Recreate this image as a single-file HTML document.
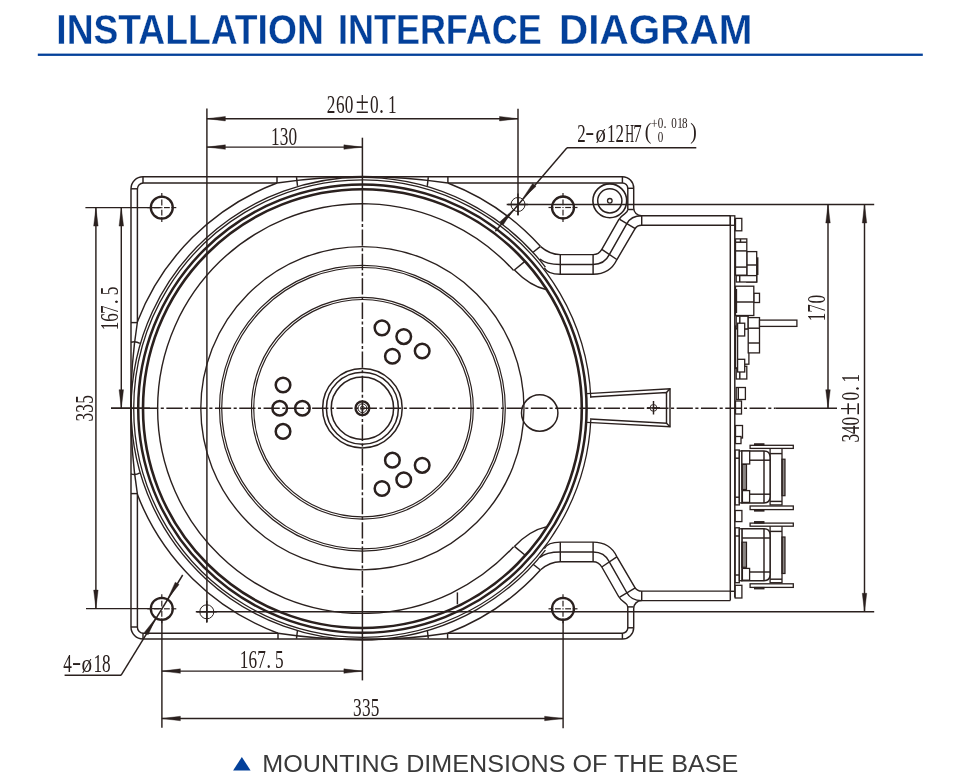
<!DOCTYPE html>
<html><head><meta charset="utf-8"><style>
html,body{margin:0;padding:0;background:#fff;}
body{width:960px;height:778px;overflow:hidden;position:relative;}
svg{position:absolute;left:0;top:0;will-change:transform;}
</style></head><body>
<svg width="960" height="778" viewBox="0 0 960 778">
<g font-family="Liberation Sans" font-weight="bold" font-size="43.4" fill="#03409a" stroke="#fff" stroke-width="0.3">
<text x="56.3" y="44.1" textLength="267.5" lengthAdjust="spacingAndGlyphs">INSTALLATION</text>
<text x="338.1" y="44.1" textLength="203.6" lengthAdjust="spacingAndGlyphs">INTERFACE</text>
<text x="559.1" y="44.1" textLength="193.4" lengthAdjust="spacingAndGlyphs">DIAGRAM</text>
</g>
<rect x="37.8" y="53.6" width="885" height="2.3" fill="#03409a"/>
<g fill="none" stroke="#2a201e" stroke-linecap="butt" stroke-width="1.2">
<circle cx="362.4" cy="408.6" r="224.2" stroke-width="2.5" />
<circle cx="362.4" cy="408.6" r="219.4" stroke-width="2.6" />
<path d="M545.41,267.15 A231.3,231.3 0 1 0 545.41,550.05" stroke-width="1.35" />
<path d="M590.83,397.43 A228.7,228.7 0 1 0 590.83,419.77" stroke-width="1.3" />
<path d="M513.64,270.5 A204.8,204.8 0 1 0 513.64,546.7" stroke-width="1.4" />
<circle cx="362.4" cy="408.2" r="161.6" stroke-width="1.35" />
<circle cx="362.4" cy="408.2" r="142.9" stroke-width="1.2" />
<circle cx="362.4" cy="408.2" r="140.7" stroke-width="1.2" />
<circle cx="362.4" cy="408.2" r="110.9" stroke-width="1.2" />
<circle cx="362.4" cy="408.2" r="108.7" stroke-width="1.2" />
<circle cx="362.4" cy="408.2" r="39.8" stroke-width="1.5" />
<circle cx="362.4" cy="408.2" r="36" stroke-width="1.5" />
<circle cx="362.4" cy="408.2" r="31.2" stroke-width="1.5" />
<circle cx="362.4" cy="408.2" r="6.9" stroke-width="2.3" />
<circle cx="362.4" cy="408.2" r="4.4" stroke-width="1.0" />
<circle cx="362.4" cy="408.2" r="2" stroke-width="0.8" />
<circle cx="283.02" cy="431.41" r="7.3" stroke-width="2.5" />
<circle cx="279.7" cy="408.2" r="7.3" stroke-width="2.5" />
<circle cx="283.02" cy="384.99" r="7.3" stroke-width="2.5" />
<circle cx="302.4" cy="408.2" r="7.3" stroke-width="2.5" />
<circle cx="381.99" cy="327.85" r="7.3" stroke-width="2.5" />
<circle cx="403.75" cy="336.58" r="7.3" stroke-width="2.5" />
<circle cx="422.19" cy="351.06" r="7.3" stroke-width="2.5" />
<circle cx="392.4" cy="356.24" r="7.3" stroke-width="2.5" />
<circle cx="422.19" cy="465.34" r="7.3" stroke-width="2.5" />
<circle cx="403.75" cy="479.82" r="7.3" stroke-width="2.5" />
<circle cx="381.99" cy="488.55" r="7.3" stroke-width="2.5" />
<circle cx="392.4" cy="460.16" r="7.3" stroke-width="2.5" />
<circle cx="539.7" cy="413" r="18.2" stroke-width="1.5" />
<path d="M137.4,321.85 A241,241 0 0 1 277,183" stroke-width="1.45" />
<path d="M137.4,494.55 A241,241 0 0 0 278,633.2" stroke-width="1.45" />
<path d="M447.9,183 A241,241 0 0 1 540.6,246.6" stroke-width="1.45" />
<path d="M447.6,633.2 A241,241 0 0 0 540.6,569.8" stroke-width="1.45" />
<path d="M131,342 L131,188.8 A12,12 0 0 1 143,176.8 L622.4,176.8 A11.3,11.3 0 0 1 633.7,188.1 L633.7,208 A7.8,7.8 0 0 0 641.5,215.8 L730.3,215.8" stroke-width="1.45" />
<path d="M131,474 L131,627 A12,12 0 0 0 143,639 L622.4,639 A11.3,11.3 0 0 0 633.7,627.7 L633.7,608.4 A7.8,7.8 0 0 1 641.5,600.6 L730.3,600.6" stroke-width="1.45" />
<path d="M131,342 L131,474" stroke-width="1.45" />
<path d="M137.4,322 L137.4,189 A6,6 0 0 1 143.4,183 L277,183" stroke-width="1.45" />
<path d="M447.9,183 L622.4,183 A5.4,5.4 0 0 1 627.8,188.4 L627.8,209.5" stroke-width="1.45" />
<path d="M137.4,494 L137.4,627.2 A6,6 0 0 0 143.4,633.2 L278,633.2" stroke-width="1.45" />
<path d="M447.6,633.2 L622.4,633.2 A5.4,5.4 0 0 0 627.8,627.8 L627.8,606.9" stroke-width="1.45" />
<line x1="143" y1="176.8" x2="143" y2="183" stroke-width="1.45" />
<line x1="131" y1="188.8" x2="137.4" y2="188.8" stroke-width="1.45" />
<line x1="143" y1="639" x2="143" y2="633.2" stroke-width="1.45" />
<line x1="131" y1="627" x2="137.4" y2="627" stroke-width="1.45" />
<line x1="622.4" y1="176.8" x2="622.4" y2="183" stroke-width="1.45" />
<line x1="627.8" y1="188.3" x2="633.7" y2="188.3" stroke-width="1.45" />
<line x1="622.4" y1="639" x2="622.4" y2="633.2" stroke-width="1.45" />
<line x1="627.8" y1="627.8" x2="633.7" y2="627.8" stroke-width="1.45" />
<line x1="277" y1="176.8" x2="277" y2="183" stroke-width="1.45" />
<line x1="447.9" y1="176.8" x2="447.9" y2="183" stroke-width="1.45" />
<line x1="278" y1="639" x2="278" y2="633.2" stroke-width="1.45" />
<line x1="447.6" y1="639" x2="447.6" y2="633.2" stroke-width="1.45" />
<line x1="131" y1="322.6" x2="137.4" y2="322.6" stroke-width="1.45" />
<line x1="131" y1="493.6" x2="137.4" y2="493.6" stroke-width="1.45" />
<line x1="627.8" y1="209.5" x2="633.7" y2="209.5" stroke-width="1.45" />
<line x1="627.8" y1="606.9" x2="633.7" y2="606.9" stroke-width="1.45" />
<path d="M277,183 A560,560 0 0 1 447.9,183" stroke-width="1.45" />
<path d="M278,633.2 A560,560 0 0 0 447.6,633.2" stroke-width="1.45" />
<path d="M137.4,322 A560,560 0 0 0 137.4,494" stroke-width="1.45" />
<line x1="296.5" y1="177.1" x2="297.5" y2="185.8" stroke-width="1.45" />
<line x1="428.3" y1="177.1" x2="427.3" y2="185.8" stroke-width="1.45" />
<line x1="296.5" y1="638.7" x2="297.5" y2="630" stroke-width="1.45" />
<line x1="428.3" y1="638.7" x2="427.3" y2="630" stroke-width="1.45" />
<path d="M131,342.3 Q135.5,340.8 139.9,343.4" stroke-width="1.45" />
<path d="M131,473.9 Q135.5,475.4 139.9,472.8" stroke-width="1.45" />
<path d="M540.6,246.6 Q550,254.6 560.3,254.6 L593.1,254.6 Q598.8,254.6 601.8,249.4 L618.6,219.9 C622.6,212.9 627.8,214 627.8,209.5" stroke-width="1.45" />
<path d="M539.9,259 Q546,264.4 560.3,264.4 L593.1,264.4 Q604.5,264.4 609.3,254.6 L626.7,223.9 Q631,215.8 641.7,215.8" stroke-width="1.45" />
<path d="M544.3,267.8 Q547.5,274.3 560.3,274.3 L593.1,274.3 Q610,274.3 616.8,259.8 L634.8,229.1 Q637,225.3 641.7,225.3 L730.3,225.3" stroke-width="1.45" />
<line x1="560.3" y1="254.6" x2="560.3" y2="274.3" stroke-width="1.45" />
<line x1="593.1" y1="254.6" x2="593.1" y2="274.3" stroke-width="1.45" />
<line x1="601.8" y1="249.4" x2="616.8" y2="259.5" stroke-width="1.45" />
<line x1="619.7" y1="219.3" x2="635.3" y2="228.6" stroke-width="1.45" />
<line x1="641.7" y1="215.8" x2="641.7" y2="225.3" stroke-width="1.45" />
<line x1="533.1" y1="252.2" x2="540.1" y2="246.6" stroke-width="1.45" />
<path d="M514.4,270 Q530,286 546,289.5" stroke-width="1.45" />
<line x1="514.4" y1="270" x2="525.2" y2="261.1" stroke-width="1.45" />
<path d="M540.6,569.8 Q550,561.8 560.3,561.8 L593.1,561.8 Q598.8,561.8 601.8,567 L618.6,596.5 C622.6,603.5 627.8,602.4 627.8,606.9" stroke-width="1.45" />
<path d="M539.9,557.4 Q546,552 560.3,552 L593.1,552 Q604.5,552 609.3,561.8 L626.7,592.5 Q631,600.6 641.7,600.6" stroke-width="1.45" />
<path d="M544.3,548.6 Q547.5,542.1 560.3,542.1 L593.1,542.1 Q610,542.1 616.8,556.6 L634.8,587.3 Q637,591.1 641.7,591.1 L730.3,591.1" stroke-width="1.45" />
<line x1="560.3" y1="561.8" x2="560.3" y2="542.1" stroke-width="1.45" />
<line x1="593.1" y1="561.8" x2="593.1" y2="542.1" stroke-width="1.45" />
<line x1="601.8" y1="567" x2="616.8" y2="556.9" stroke-width="1.45" />
<line x1="619.7" y1="597.1" x2="635.3" y2="587.8" stroke-width="1.45" />
<line x1="641.7" y1="600.6" x2="641.7" y2="591.1" stroke-width="1.45" />
<line x1="533.1" y1="564.2" x2="540.1" y2="569.8" stroke-width="1.45" />
<path d="M514.4,546.4 Q530,530.4 546,526.9" stroke-width="1.45" />
<line x1="514.4" y1="546.4" x2="525.2" y2="555.3" stroke-width="1.45" />
<line x1="730.3" y1="215.8" x2="730.3" y2="600.6" stroke-width="1.45" />
<line x1="734.8" y1="219" x2="734.8" y2="597.5" stroke-width="1.45" />
<rect x="730.3" y="215.8" width="4.5" height="9.5" stroke-width="1.3" />
<rect x="735.5" y="218.4" width="6.3" height="12.4" stroke-width="1.3" fill="#fff"/>
<rect x="746.8" y="251.6" width="9.9" height="30.4" stroke-width="1.3" fill="#fff"/>
<line x1="746.8" y1="265" x2="756.7" y2="265" stroke-width="1.45" />
<line x1="757.6" y1="257.3" x2="757.6" y2="275" stroke-width="1.7" />
<rect x="735.5" y="238.9" width="11.3" height="36.3" stroke-width="1.3" fill="#fff"/>
<line x1="735.5" y1="242.2" x2="746.8" y2="242.2" stroke-width="1.45" />
<line x1="740.5" y1="238.9" x2="740.5" y2="242.2" stroke-width="1.45" />
<line x1="735.5" y1="250.9" x2="746.8" y2="250.9" stroke-width="1.45" />
<line x1="735.5" y1="267.1" x2="746.8" y2="267.1" stroke-width="1.45" />
<rect x="736.2" y="275.6" width="20.5" height="6.4" stroke-width="1.3" fill="#fff"/>
<line x1="739.7" y1="275.6" x2="739.7" y2="282" stroke-width="1.45" />
<rect x="753.8" y="293.3" width="5.7" height="9.2" stroke-width="1.3" fill="#fff"/>
<rect x="735.5" y="286.2" width="18.3" height="29.3" stroke-width="1.3" fill="#fff"/>
<line x1="735.5" y1="302" x2="753.8" y2="302" stroke-width="1.45" />
<line x1="736.3" y1="289" x2="736.3" y2="313" stroke-width="1.7" />
<rect x="736.2" y="366.3" width="10.6" height="12.7" stroke-width="1.3" fill="#fff"/>
<line x1="739.8" y1="371" x2="739.8" y2="379" stroke-width="1.45" />
<rect x="735.5" y="326" width="2.1" height="42.4" stroke-width="1.3" fill="#fff"/>
<rect x="737.6" y="328.9" width="11.3" height="35.3" stroke-width="1.3" fill="#fff"/>
<rect x="736.2" y="316.2" width="12" height="12.7" stroke-width="1.3" fill="#fff"/>
<line x1="739.8" y1="316.2" x2="739.8" y2="328.9" stroke-width="1.45" />
<rect x="748.2" y="317.6" width="11.3" height="35.3" stroke-width="1.3" fill="#fff"/>
<line x1="748.2" y1="328.2" x2="759.5" y2="328.2" stroke-width="1.45" />
<line x1="748.2" y1="343" x2="759.5" y2="343" stroke-width="1.45" />
<rect x="759.5" y="320.1" width="37.4" height="6.3" stroke-width="1.3" fill="#fff"/>
<rect x="737.6" y="323.2" width="7.1" height="12.8" stroke-width="1.3" fill="#fff"/>
<rect x="737.6" y="359.3" width="7.1" height="12.7" stroke-width="1.3" fill="#fff"/>
<rect x="736.2" y="387.5" width="9.2" height="12" stroke-width="1.3" fill="#fff"/>
<line x1="738.3" y1="387.5" x2="738.3" y2="399.5" stroke-width="1.45" />
<rect x="735.5" y="401" width="6" height="13" stroke-width="1.3" fill="#fff"/>
<rect x="735.5" y="425.5" width="7" height="12.5" stroke-width="1.3" fill="#fff"/>
<rect x="735.5" y="436.5" width="5.5" height="7.1" stroke-width="1.3" fill="#fff"/>
<rect x="770.1" y="446.4" width="11.9" height="58.5" stroke-width="1.3" fill="#fff"/>
<line x1="770.1" y1="453.6" x2="782" y2="453.6" stroke-width="1.45" />
<line x1="770.1" y1="501.4" x2="782" y2="501.4" stroke-width="1.45" />
<rect x="782" y="459.2" width="3" height="36.5" stroke-width="1.2" fill="#2a201e" fill-opacity="0.55"/>
<rect x="750.1" y="445.3" width="43.2" height="3.1" stroke-width="1.3" fill="#fff"/>
<rect x="754.5" y="443.8" width="9.5" height="1.5" stroke-width="1.0" fill="#2a201e"/>
<rect x="750.1" y="506" width="43.2" height="3.6" stroke-width="1.3" fill="#fff"/>
<rect x="754.5" y="509.6" width="9.5" height="1.5" stroke-width="1.0" fill="#2a201e"/>
<path d="M741.9,451 L764,451 Q770.1,451 770.1,457.2 L770.1,496.7 Q770.1,502.9 764,502.9 L741.9,502.9 Z" stroke-width="1.5" fill="#fff"/>
<line x1="741.9" y1="460.2" x2="770.1" y2="460.2" stroke-width="1.45" />
<line x1="741.9" y1="494.2" x2="770.1" y2="494.2" stroke-width="1.45" />
<line x1="764" y1="451" x2="764" y2="502.9" stroke-width="1.45" />
<rect x="735.2" y="450" width="4.1" height="54.9" stroke-width="1.3" fill="#fff"/>
<line x1="735.2" y1="458.2" x2="739.3" y2="458.2" stroke-width="1.45" />
<line x1="735.2" y1="497.2" x2="739.3" y2="497.2" stroke-width="1.45" />
<rect x="739.3" y="451" width="2.6" height="51.9" stroke-width="1.3" fill="#fff"/>
<rect x="741.9" y="464.4" width="4.6" height="25.1" stroke-width="1.2" fill="#2a201e" fill-opacity="0.55"/>
<rect x="742.4" y="490.6" width="7.2" height="11.8" stroke-width="1.3" fill="#fff"/>
<rect x="741.9" y="451" width="7.8" height="13" stroke-width="1.3" fill="#fff"/>
<rect x="770.1" y="524.2" width="11.9" height="58.5" stroke-width="1.3" fill="#fff"/>
<line x1="770.1" y1="531.4" x2="782" y2="531.4" stroke-width="1.45" />
<line x1="770.1" y1="579.2" x2="782" y2="579.2" stroke-width="1.45" />
<rect x="782" y="537" width="3" height="36.5" stroke-width="1.2" fill="#2a201e" fill-opacity="0.55"/>
<rect x="750.1" y="523.1" width="43.2" height="3.1" stroke-width="1.3" fill="#fff"/>
<rect x="754.5" y="521.6" width="9.5" height="1.5" stroke-width="1.0" fill="#2a201e"/>
<rect x="750.1" y="583.8" width="43.2" height="3.6" stroke-width="1.3" fill="#fff"/>
<rect x="754.5" y="587.4" width="9.5" height="1.5" stroke-width="1.0" fill="#2a201e"/>
<path d="M741.9,528.8 L764,528.8 Q770.1,528.8 770.1,535 L770.1,574.5 Q770.1,580.7 764,580.7 L741.9,580.7 Z" stroke-width="1.5" fill="#fff"/>
<line x1="741.9" y1="538" x2="770.1" y2="538" stroke-width="1.45" />
<line x1="741.9" y1="572" x2="770.1" y2="572" stroke-width="1.45" />
<line x1="764" y1="528.8" x2="764" y2="580.7" stroke-width="1.45" />
<rect x="735.2" y="527.8" width="4.1" height="54.9" stroke-width="1.3" fill="#fff"/>
<line x1="735.2" y1="536" x2="739.3" y2="536" stroke-width="1.45" />
<line x1="735.2" y1="575" x2="739.3" y2="575" stroke-width="1.45" />
<rect x="739.3" y="528.8" width="2.6" height="51.9" stroke-width="1.3" fill="#fff"/>
<rect x="741.9" y="542.2" width="4.6" height="25.1" stroke-width="1.2" fill="#2a201e" fill-opacity="0.55"/>
<rect x="742.4" y="568.4" width="7.2" height="11.8" stroke-width="1.3" fill="#fff"/>
<rect x="735.2" y="585.3" width="6.7" height="12.7" stroke-width="1.3" fill="#fff"/>
<rect x="735.2" y="510.5" width="6.7" height="11.1" stroke-width="1.3" fill="#fff"/>
<line x1="730.3" y1="591.3" x2="734.8" y2="591.3" stroke-width="1.45" />
<circle cx="161.8" cy="207.6" r="11" stroke-width="2.3" />
<line x1="147.3" y1="207.6" x2="152.3" y2="207.6" stroke-width="1.2" />
<line x1="153.8" y1="207.6" x2="159.6" y2="207.6" stroke-width="1.2" />
<line x1="161.8" y1="193.1" x2="161.8" y2="198.1" stroke-width="1.2" />
<line x1="161.8" y1="199.6" x2="161.8" y2="205.4" stroke-width="1.2" />
<line x1="176.3" y1="207.6" x2="171.3" y2="207.6" stroke-width="1.2" />
<line x1="169.8" y1="207.6" x2="164" y2="207.6" stroke-width="1.2" />
<line x1="161.8" y1="222.1" x2="161.8" y2="217.1" stroke-width="1.2" />
<line x1="161.8" y1="215.6" x2="161.8" y2="209.8" stroke-width="1.2" />
<line x1="161.2" y1="207.6" x2="162.4" y2="207.6" stroke-width="1.2" />
<circle cx="563" cy="207.5" r="11" stroke-width="2.3" />
<line x1="548.5" y1="207.5" x2="553.5" y2="207.5" stroke-width="1.2" />
<line x1="555" y1="207.5" x2="560.8" y2="207.5" stroke-width="1.2" />
<line x1="563" y1="193" x2="563" y2="198" stroke-width="1.2" />
<line x1="563" y1="199.5" x2="563" y2="205.3" stroke-width="1.2" />
<line x1="577.5" y1="207.5" x2="572.5" y2="207.5" stroke-width="1.2" />
<line x1="571" y1="207.5" x2="565.2" y2="207.5" stroke-width="1.2" />
<line x1="563" y1="222" x2="563" y2="217" stroke-width="1.2" />
<line x1="563" y1="215.5" x2="563" y2="209.7" stroke-width="1.2" />
<line x1="562.4" y1="207.5" x2="563.6" y2="207.5" stroke-width="1.2" />
<circle cx="161.8" cy="608.8" r="11" stroke-width="2.3" />
<line x1="147.3" y1="608.8" x2="152.3" y2="608.8" stroke-width="1.2" />
<line x1="153.8" y1="608.8" x2="159.6" y2="608.8" stroke-width="1.2" />
<line x1="161.8" y1="594.3" x2="161.8" y2="599.3" stroke-width="1.2" />
<line x1="161.8" y1="600.8" x2="161.8" y2="606.6" stroke-width="1.2" />
<line x1="176.3" y1="608.8" x2="171.3" y2="608.8" stroke-width="1.2" />
<line x1="169.8" y1="608.8" x2="164" y2="608.8" stroke-width="1.2" />
<line x1="161.8" y1="623.3" x2="161.8" y2="618.3" stroke-width="1.2" />
<line x1="161.8" y1="616.8" x2="161.8" y2="611" stroke-width="1.2" />
<line x1="161.2" y1="608.8" x2="162.4" y2="608.8" stroke-width="1.2" />
<circle cx="563" cy="608.8" r="11" stroke-width="2.3" />
<line x1="548.5" y1="608.8" x2="553.5" y2="608.8" stroke-width="1.2" />
<line x1="555" y1="608.8" x2="560.8" y2="608.8" stroke-width="1.2" />
<line x1="563" y1="594.3" x2="563" y2="599.3" stroke-width="1.2" />
<line x1="563" y1="600.8" x2="563" y2="606.6" stroke-width="1.2" />
<line x1="577.5" y1="608.8" x2="572.5" y2="608.8" stroke-width="1.2" />
<line x1="571" y1="608.8" x2="565.2" y2="608.8" stroke-width="1.2" />
<line x1="563" y1="623.3" x2="563" y2="618.3" stroke-width="1.2" />
<line x1="563" y1="616.8" x2="563" y2="611" stroke-width="1.2" />
<line x1="562.4" y1="608.8" x2="563.6" y2="608.8" stroke-width="1.2" />
<circle cx="518" cy="204.5" r="7" stroke-width="1.0" />
<line x1="508" y1="204.5" x2="528" y2="204.5" stroke-width="1.45" />
<line x1="518" y1="193.5" x2="518" y2="215.5" stroke-width="1.45" />
<circle cx="206.8" cy="611.8" r="7" stroke-width="1.0" />
<line x1="196.8" y1="611.8" x2="216.8" y2="611.8" stroke-width="1.45" />
<line x1="206.8" y1="600.8" x2="206.8" y2="622.8" stroke-width="1.45" />
<circle cx="609.8" cy="200.8" r="16.9" stroke-width="1.6" />
<circle cx="609.8" cy="200.8" r="12.1" stroke-width="1.5" />
<circle cx="609.8" cy="200.8" r="2.3" stroke-width="1.3" />
<path d="M587,393.6 L670,388.8 L670,426.8 L587,422.4" stroke-width="1.45" />
<path d="M590,397 L666.5,392.5 L666.5,423.3 L590,419" stroke-width="1.45" />
<line x1="666.5" y1="392.5" x2="670" y2="388.8" stroke-width="1.45" />
<line x1="666.5" y1="423.3" x2="670" y2="426.8" stroke-width="1.45" />
<circle cx="653.5" cy="407.9" r="3.4" stroke-width="0.9" />
<line x1="653.5" y1="401" x2="653.5" y2="414.5" stroke-width="1.45" />
<line x1="647" y1="407.9" x2="660" y2="407.9" stroke-width="1.45" />
<line x1="111" y1="408.2" x2="158" y2="408.2" stroke-width="1.5" />
<line x1="457.4" y1="592.4" x2="457.4" y2="604.3" stroke-width="1.45" />
<line x1="158" y1="408.2" x2="775.5" y2="408.2" stroke-width="1.5" stroke-dasharray="16.2 2.5 3.1 2.5" stroke-dashoffset="15.95"/>
<line x1="775.5" y1="408.2" x2="837" y2="408.2" stroke-width="1.5" />
<line x1="362.4" y1="137.7" x2="362.4" y2="205" stroke-width="1.5" />
<line x1="362.4" y1="205" x2="362.4" y2="611.8" stroke-width="1.5" stroke-dasharray="16.4 2.5 3.0 2.5"/>
<line x1="362.4" y1="611.8" x2="362.4" y2="680.4" stroke-width="1.5" />
<line x1="506.7" y1="204.5" x2="874.2" y2="204.5" stroke-width="1.45" />
<line x1="195.8" y1="611.8" x2="874.2" y2="611.8" stroke-width="1.45" />
<line x1="206.9" y1="108.5" x2="206.9" y2="622" stroke-width="1.45" />
<line x1="518" y1="108.8" x2="518" y2="215" stroke-width="1.45" />
<line x1="206.9" y1="118.7" x2="518" y2="118.7" stroke-width="1.45" />
<path d="M206.9,118.7 L225.4,116.45 L225.4,120.95 Z" fill="#2a201e" stroke="#2a201e" stroke-width="0.4" stroke-linejoin="round"/>
<path d="M518,118.7 L499.5,120.95 L499.5,116.45 Z" fill="#2a201e" stroke="#2a201e" stroke-width="0.4" stroke-linejoin="round"/>
<line x1="206.9" y1="147.1" x2="362.4" y2="147.1" stroke-width="1.45" />
<path d="M206.9,147.1 L225.4,144.85 L225.4,149.35 Z" fill="#2a201e" stroke="#2a201e" stroke-width="0.4" stroke-linejoin="round"/>
<path d="M362.4,147.1 L343.9,149.35 L343.9,144.85 Z" fill="#2a201e" stroke="#2a201e" stroke-width="0.4" stroke-linejoin="round"/>
<line x1="85.4" y1="207.6" x2="161" y2="207.6" stroke-width="1.45" />
<line x1="111" y1="408.2" x2="150" y2="408.2" stroke-width="1.45" />
<line x1="86" y1="608.6" x2="161" y2="608.6" stroke-width="1.45" />
<line x1="95.9" y1="207.6" x2="95.9" y2="608.6" stroke-width="1.45" />
<path d="M95.9,207.6 L98.15,226.1 L93.65,226.1 Z" fill="#2a201e" stroke="#2a201e" stroke-width="0.4" stroke-linejoin="round"/>
<path d="M95.9,608.6 L93.65,590.1 L98.15,590.1 Z" fill="#2a201e" stroke="#2a201e" stroke-width="0.4" stroke-linejoin="round"/>
<line x1="121.3" y1="207.6" x2="121.3" y2="408.2" stroke-width="1.45" />
<path d="M121.3,207.6 L123.55,226.1 L119.05,226.1 Z" fill="#2a201e" stroke="#2a201e" stroke-width="0.4" stroke-linejoin="round"/>
<path d="M121.3,408.2 L119.05,389.7 L123.55,389.7 Z" fill="#2a201e" stroke="#2a201e" stroke-width="0.4" stroke-linejoin="round"/>
<line x1="828" y1="204.5" x2="828" y2="408.2" stroke-width="1.45" />
<path d="M828,204.5 L830.25,223 L825.75,223 Z" fill="#2a201e" stroke="#2a201e" stroke-width="0.4" stroke-linejoin="round"/>
<path d="M828,408.2 L825.75,389.7 L830.25,389.7 Z" fill="#2a201e" stroke="#2a201e" stroke-width="0.4" stroke-linejoin="round"/>
<line x1="864.5" y1="204.5" x2="864.5" y2="611.8" stroke-width="1.45" />
<path d="M864.5,204.5 L866.75,223 L862.25,223 Z" fill="#2a201e" stroke="#2a201e" stroke-width="0.4" stroke-linejoin="round"/>
<path d="M864.5,611.8 L862.25,593.3 L866.75,593.3 Z" fill="#2a201e" stroke="#2a201e" stroke-width="0.4" stroke-linejoin="round"/>
<line x1="161.9" y1="620" x2="161.9" y2="727.8" stroke-width="1.45" />
<line x1="563.1" y1="620" x2="563.1" y2="728.3" stroke-width="1.45" />
<line x1="161.9" y1="671.1" x2="362.4" y2="671.1" stroke-width="1.45" />
<path d="M161.9,671.1 L180.4,668.85 L180.4,673.35 Z" fill="#2a201e" stroke="#2a201e" stroke-width="0.4" stroke-linejoin="round"/>
<path d="M362.4,671.1 L343.9,673.35 L343.9,668.85 Z" fill="#2a201e" stroke="#2a201e" stroke-width="0.4" stroke-linejoin="round"/>
<line x1="161.9" y1="718.5" x2="563.1" y2="718.5" stroke-width="1.45" />
<path d="M161.9,718.5 L180.4,716.25 L180.4,720.75 Z" fill="#2a201e" stroke="#2a201e" stroke-width="0.4" stroke-linejoin="round"/>
<path d="M563.1,718.5 L544.6,720.75 L544.6,716.25 Z" fill="#2a201e" stroke="#2a201e" stroke-width="0.4" stroke-linejoin="round"/>
<line x1="567" y1="147.8" x2="696.3" y2="147.8" stroke-width="1.45" />
<line x1="567" y1="147.8" x2="495.4" y2="231.2" stroke-width="1.45" />
<path d="M522.38,198.95 L532.67,183.41 L536.09,186.33 Z" fill="#2a201e" stroke="#2a201e" stroke-width="0.4" stroke-linejoin="round"/>
<path d="M513.42,209.45 L503.13,224.99 L499.71,222.07 Z" fill="#2a201e" stroke="#2a201e" stroke-width="0.4" stroke-linejoin="round"/>
<line x1="64.6" y1="675.3" x2="121" y2="675.3" stroke-width="1.45" />
<line x1="121" y1="675.3" x2="182.7" y2="575" stroke-width="1.45" />
<path d="M167.47,599.13 L175.26,582.2 L179.09,584.56 Z" fill="#2a201e" stroke="#2a201e" stroke-width="0.4" stroke-linejoin="round"/>
<path d="M155.93,617.87 L148.14,634.8 L144.31,632.44 Z" fill="#2a201e" stroke="#2a201e" stroke-width="0.4" stroke-linejoin="round"/>
</g>
<text transform="translate(331.1,112.5) scale(0.69,1)" x="0" y="0" font-size="25" font-family="Liberation Serif" fill="#2a201e" stroke="none" text-anchor="middle">2</text>
<text transform="translate(340.4,112.5) scale(0.69,1)" x="0" y="0" font-size="25" font-family="Liberation Serif" fill="#2a201e" stroke="none" text-anchor="middle">6</text>
<text transform="translate(349.1,112.5) scale(0.69,1)" x="0" y="0" font-size="25" font-family="Liberation Serif" fill="#2a201e" stroke="none" text-anchor="middle">0</text>
<text transform="translate(362.3,112.5) scale(0.77,1)" x="0" y="0" font-size="31" font-family="Liberation Serif" fill="#2a201e" stroke="none" text-anchor="middle">±</text>
<text transform="translate(374.4,112.5) scale(0.69,1)" x="0" y="0" font-size="25" font-family="Liberation Serif" fill="#2a201e" stroke="none" text-anchor="middle">0</text>
<text transform="translate(381.5,112.5) scale(0.8,1)" x="0" y="0" font-size="25" font-family="Liberation Serif" fill="#2a201e" stroke="none" text-anchor="middle">.</text>
<text transform="translate(392.3,112.5) scale(0.69,1)" x="0" y="0" font-size="25" font-family="Liberation Serif" fill="#2a201e" stroke="none" text-anchor="middle">1</text>
<text transform="translate(275.3,144.6) scale(0.69,1)" x="0" y="0" font-size="25" font-family="Liberation Serif" fill="#2a201e" stroke="none" text-anchor="middle">1</text>
<text transform="translate(284,144.6) scale(0.69,1)" x="0" y="0" font-size="25" font-family="Liberation Serif" fill="#2a201e" stroke="none" text-anchor="middle">3</text>
<text transform="translate(292.8,144.6) scale(0.69,1)" x="0" y="0" font-size="25" font-family="Liberation Serif" fill="#2a201e" stroke="none" text-anchor="middle">0</text>
<text transform="translate(581.4,141.8) scale(0.69,1)" x="0" y="0" font-size="24.5" font-family="Liberation Serif" fill="#2a201e" stroke="none" text-anchor="middle">2</text>
<text transform="translate(589.85,139.64) scale(1.1,1)" x="0" y="0" font-size="24.5" font-family="Liberation Serif" fill="#2a201e" stroke="none" text-anchor="middle">-</text>
<text transform="translate(600.65,141.8) scale(0.85,1)" x="0" y="0" font-size="24.5" font-family="Liberation Serif" fill="#2a201e" stroke="none" text-anchor="middle">ø</text>
<text transform="translate(611.2,141.8) scale(0.69,1)" x="0" y="0" font-size="24.5" font-family="Liberation Serif" fill="#2a201e" stroke="none" text-anchor="middle">1</text>
<text transform="translate(619.8,141.8) scale(0.69,1)" x="0" y="0" font-size="24.5" font-family="Liberation Serif" fill="#2a201e" stroke="none" text-anchor="middle">2</text>
<text transform="translate(629.6,141.8) scale(0.5,1)" x="0" y="0" font-size="24.5" font-family="Liberation Serif" fill="#2a201e" stroke="none" text-anchor="middle">H</text>
<text transform="translate(637.4,141.8) scale(0.69,1)" x="0" y="0" font-size="24.5" font-family="Liberation Serif" fill="#2a201e" stroke="none" text-anchor="middle">7</text>
<text transform="translate(647.9,138.86) scale(0.85,1)" x="0" y="0" font-size="23.03" font-family="Liberation Serif" fill="#2a201e" stroke="none" text-anchor="middle">(</text>
<text transform="translate(654.3,128.3) scale(0.8,1)" x="0" y="0" font-size="15.4" font-family="Liberation Serif" fill="#2a201e" stroke="none" text-anchor="middle">+</text>
<text transform="translate(660.4,128.3) scale(0.72,1)" x="0" y="0" font-size="15.4" font-family="Liberation Serif" fill="#2a201e" stroke="none" text-anchor="middle">0</text>
<text transform="translate(665.1,128.3) scale(0.8,1)" x="0" y="0" font-size="15.4" font-family="Liberation Serif" fill="#2a201e" stroke="none" text-anchor="middle">.</text>
<text transform="translate(674,128.3) scale(0.72,1)" x="0" y="0" font-size="15.4" font-family="Liberation Serif" fill="#2a201e" stroke="none" text-anchor="middle">0</text>
<text transform="translate(680,128.3) scale(0.72,1)" x="0" y="0" font-size="15.4" font-family="Liberation Serif" fill="#2a201e" stroke="none" text-anchor="middle">1</text>
<text transform="translate(684.8,128.3) scale(0.72,1)" x="0" y="0" font-size="15.4" font-family="Liberation Serif" fill="#2a201e" stroke="none" text-anchor="middle">8</text>
<text transform="translate(660.4,142.3) scale(0.72,1)" x="0" y="0" font-size="15.4" font-family="Liberation Serif" fill="#2a201e" stroke="none" text-anchor="middle">0</text>
<text transform="translate(693.5,138.86) scale(0.85,1)" x="0" y="0" font-size="23.03" font-family="Liberation Serif" fill="#2a201e" stroke="none" text-anchor="middle">)</text>
<text transform="translate(118,326) rotate(-90) scale(0.69,1)" x="0" y="0" font-size="25" font-family="Liberation Serif" fill="#2a201e" stroke="none" text-anchor="middle">1</text>
<text transform="translate(118,317.4) rotate(-90) scale(0.69,1)" x="0" y="0" font-size="25" font-family="Liberation Serif" fill="#2a201e" stroke="none" text-anchor="middle">6</text>
<text transform="translate(118,309.7) rotate(-90) scale(0.69,1)" x="0" y="0" font-size="25" font-family="Liberation Serif" fill="#2a201e" stroke="none" text-anchor="middle">7</text>
<text transform="translate(118,301.8) rotate(-90) scale(0.8,1)" x="0" y="0" font-size="25" font-family="Liberation Serif" fill="#2a201e" stroke="none" text-anchor="middle">.</text>
<text transform="translate(118,291) rotate(-90) scale(0.69,1)" x="0" y="0" font-size="25" font-family="Liberation Serif" fill="#2a201e" stroke="none" text-anchor="middle">5</text>
<text transform="translate(93,417.1) rotate(-90) scale(0.69,1)" x="0" y="0" font-size="25" font-family="Liberation Serif" fill="#2a201e" stroke="none" text-anchor="middle">3</text>
<text transform="translate(93,408.5) rotate(-90) scale(0.69,1)" x="0" y="0" font-size="25" font-family="Liberation Serif" fill="#2a201e" stroke="none" text-anchor="middle">3</text>
<text transform="translate(93,399.4) rotate(-90) scale(0.69,1)" x="0" y="0" font-size="25" font-family="Liberation Serif" fill="#2a201e" stroke="none" text-anchor="middle">5</text>
<text transform="translate(824.9,317) rotate(-90) scale(0.69,1)" x="0" y="0" font-size="25" font-family="Liberation Serif" fill="#2a201e" stroke="none" text-anchor="middle">1</text>
<text transform="translate(824.9,308.4) rotate(-90) scale(0.69,1)" x="0" y="0" font-size="25" font-family="Liberation Serif" fill="#2a201e" stroke="none" text-anchor="middle">7</text>
<text transform="translate(824.9,299.3) rotate(-90) scale(0.69,1)" x="0" y="0" font-size="25" font-family="Liberation Serif" fill="#2a201e" stroke="none" text-anchor="middle">0</text>
<text transform="translate(858.5,438.3) rotate(-90) scale(0.69,1)" x="0" y="0" font-size="25" font-family="Liberation Serif" fill="#2a201e" stroke="none" text-anchor="middle">3</text>
<text transform="translate(858.5,429.8) rotate(-90) scale(0.69,1)" x="0" y="0" font-size="25" font-family="Liberation Serif" fill="#2a201e" stroke="none" text-anchor="middle">4</text>
<text transform="translate(858.5,421.3) rotate(-90) scale(0.69,1)" x="0" y="0" font-size="25" font-family="Liberation Serif" fill="#2a201e" stroke="none" text-anchor="middle">0</text>
<text transform="translate(858.5,408.7) rotate(-90) scale(0.77,1)" x="0" y="0" font-size="31" font-family="Liberation Serif" fill="#2a201e" stroke="none" text-anchor="middle">±</text>
<text transform="translate(858.5,396.1) rotate(-90) scale(0.69,1)" x="0" y="0" font-size="25" font-family="Liberation Serif" fill="#2a201e" stroke="none" text-anchor="middle">0</text>
<text transform="translate(858.5,388.5) rotate(-90) scale(0.8,1)" x="0" y="0" font-size="25" font-family="Liberation Serif" fill="#2a201e" stroke="none" text-anchor="middle">.</text>
<text transform="translate(858.5,378.3) rotate(-90) scale(0.69,1)" x="0" y="0" font-size="25" font-family="Liberation Serif" fill="#2a201e" stroke="none" text-anchor="middle">1</text>
<text transform="translate(67.6,671.8) scale(0.69,1)" x="0" y="0" font-size="25" font-family="Liberation Serif" fill="#2a201e" stroke="none" text-anchor="middle">4</text>
<text transform="translate(76.6,669.6) scale(1.1,1)" x="0" y="0" font-size="25" font-family="Liberation Serif" fill="#2a201e" stroke="none" text-anchor="middle">-</text>
<text transform="translate(86.9,671.8) scale(0.85,1)" x="0" y="0" font-size="25" font-family="Liberation Serif" fill="#2a201e" stroke="none" text-anchor="middle">ø</text>
<text transform="translate(97.9,671.8) scale(0.69,1)" x="0" y="0" font-size="25" font-family="Liberation Serif" fill="#2a201e" stroke="none" text-anchor="middle">1</text>
<text transform="translate(106.4,671.8) scale(0.69,1)" x="0" y="0" font-size="25" font-family="Liberation Serif" fill="#2a201e" stroke="none" text-anchor="middle">8</text>
<text transform="translate(244,668.3) scale(0.69,1)" x="0" y="0" font-size="25" font-family="Liberation Serif" fill="#2a201e" stroke="none" text-anchor="middle">1</text>
<text transform="translate(252.9,668.3) scale(0.69,1)" x="0" y="0" font-size="25" font-family="Liberation Serif" fill="#2a201e" stroke="none" text-anchor="middle">6</text>
<text transform="translate(261.5,668.3) scale(0.69,1)" x="0" y="0" font-size="25" font-family="Liberation Serif" fill="#2a201e" stroke="none" text-anchor="middle">7</text>
<text transform="translate(268.7,668.3) scale(0.8,1)" x="0" y="0" font-size="25" font-family="Liberation Serif" fill="#2a201e" stroke="none" text-anchor="middle">.</text>
<text transform="translate(279.3,668.3) scale(0.69,1)" x="0" y="0" font-size="25" font-family="Liberation Serif" fill="#2a201e" stroke="none" text-anchor="middle">5</text>
<text transform="translate(357.3,715.6) scale(0.69,1)" x="0" y="0" font-size="25" font-family="Liberation Serif" fill="#2a201e" stroke="none" text-anchor="middle">3</text>
<text transform="translate(366.3,715.6) scale(0.69,1)" x="0" y="0" font-size="25" font-family="Liberation Serif" fill="#2a201e" stroke="none" text-anchor="middle">3</text>
<text transform="translate(375.1,715.6) scale(0.69,1)" x="0" y="0" font-size="25" font-family="Liberation Serif" fill="#2a201e" stroke="none" text-anchor="middle">5</text>
<path d="M233.1,770.6 L241.85,756.9 L250.6,770.6 Z" fill="#03409a"/>
<text x="262.3" y="771.6" font-family="Liberation Sans" font-size="24.2" fill="#3a3a3a" textLength="476" lengthAdjust="spacingAndGlyphs">MOUNTING DIMENSIONS OF THE BASE</text>
</svg>
</body></html>
